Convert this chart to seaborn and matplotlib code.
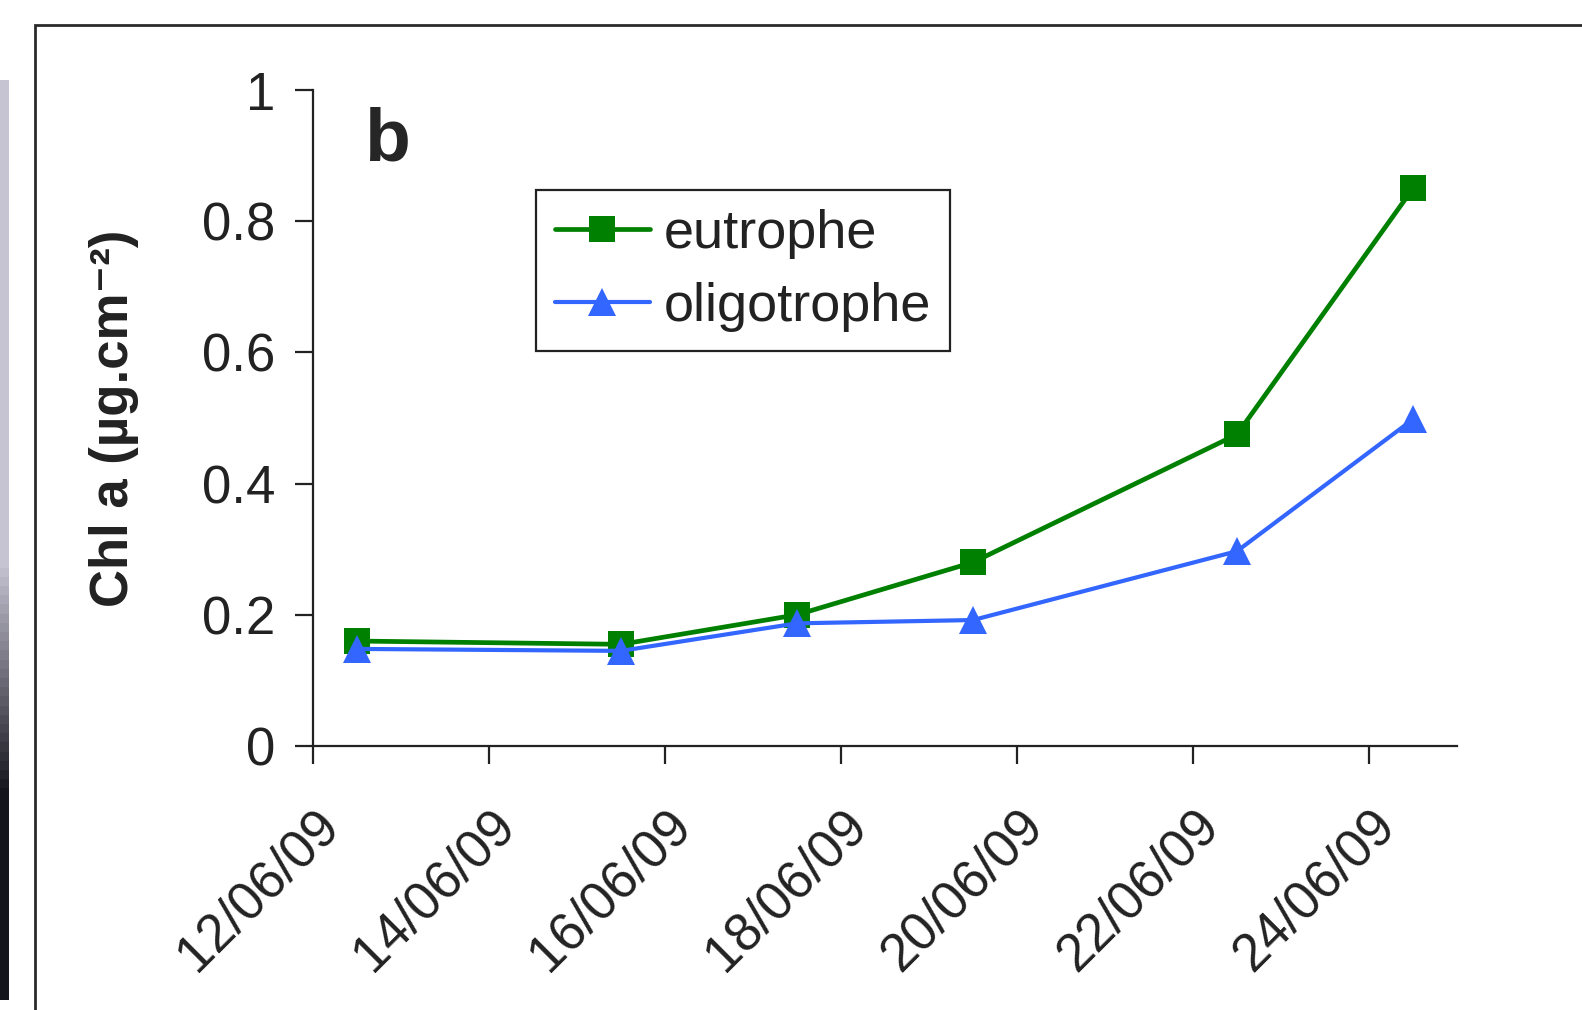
import numpy as np
import pandas as pd
import matplotlib
matplotlib.use("Agg")
import matplotlib.pyplot as plt
import matplotlib.dates as mdates
import matplotlib.ticker as ticker
from matplotlib.patches import Rectangle
import seaborn as sns

# Data
dates = ["2009-06-12 12:00", "2009-06-15 12:00", "2009-06-17 12:00",
         "2009-06-19 12:00", "2009-06-22 12:00", "2009-06-24 12:00"]
eutrophe = [0.16, 0.155, 0.20, 0.28, 0.475, 0.85]
oligotrophe = [0.148, 0.145, 0.187, 0.192, 0.297, 0.498]
tick_dates = ["2009-06-12", "2009-06-14", "2009-06-16", "2009-06-18",
              "2009-06-20", "2009-06-22", "2009-06-24"]
y_ticks = [0, 0.2, 0.4, 0.6, 0.8, 1]

df = pd.DataFrame({"date": pd.to_datetime(dates),
                   "eutrophe": eutrophe,
                   "oligotrophe": oligotrophe})

sns.set_style("ticks")
plt.rcParams["font.family"] = ["Liberation Sans", "DejaVu Sans"]
plt.rcParams["mathtext.default"] = "regular"

fig = plt.figure(figsize=(15.82, 10.1), dpi=100)
fig.patch.set_facecolor("white")

# outer frame of the panel
fig.patches.append(Rectangle((35 / 1582, -0.05), 1.2, 0.05 + 1 - 25 / 1010,
                             transform=fig.transFigure, fill=False,
                             edgecolor="#2a2a2a", linewidth=2.0))

# strip of the neighbouring photo at the left edge
strip = fig.add_axes([0, 1 - 1000 / 1010, 9 / 1582, 920 / 1010])
grad = np.ones((100, 1, 3))
top = np.array([0.78, 0.77, 0.83])
bot = np.array([0.08, 0.08, 0.11])
for i in range(100):
    t = 0 if i < 52 else min(1, (i - 52) / 25)
    grad[i, 0] = top * (1 - t) + bot * t
strip.imshow(grad, aspect="auto")
strip.axis("off")

ax = fig.add_axes([313 / 1582, 1 - 746 / 1010, 1144 / 1582, 656 / 1010])

sns.lineplot(data=df, x="date", y="eutrophe", ax=ax, color="#008000",
             marker="s", markersize=19, markeredgewidth=0, linewidth=3.4,
             label="eutrophe")
sns.lineplot(data=df, x="date", y="oligotrophe", ax=ax, color="#3366FF",
             marker="^", markersize=20, markeredgewidth=0, linewidth=3.0,
             label="oligotrophe")

ax.set_xlim(pd.Timestamp("2009-06-12"), pd.Timestamp("2009-06-25"))
ax.set_ylim(0, 1)
ax.set_xticks(pd.to_datetime(tick_dates))
ax.xaxis.set_major_formatter(mdates.DateFormatter("%d/%m/%y"))
ax.set_yticks(y_ticks)
ax.yaxis.set_major_formatter(ticker.FuncFormatter(lambda v, _: f"{v:g}"))

for s in ["top", "right"]:
    ax.spines[s].set_visible(False)
for s in ["left", "bottom"]:
    ax.spines[s].set_linewidth(1.6)
    ax.spines[s].set_color("#222222")

ax.tick_params(axis="both", direction="out", length=13, width=1.6,
               colors="#222222", labelsize=38)
ax.tick_params(axis="y", pad=14)
ax.tick_params(axis="x", pad=26)
for lbl in ax.get_xticklabels():
    lbl.set_rotation(45)
    lbl.set_ha("right")
    lbl.set_rotation_mode("anchor")

ax.set_xlabel("")
ax.set_ylabel("Chl a (µg.cm⁻²)", fontsize=38, fontweight="bold",
              color="#222222")
ax.yaxis.set_label_coords(-0.152, 0.5)

ax.text(0.045, 0.975, "b", transform=ax.transAxes, fontsize=54,
        fontweight="bold", va="top", ha="left")

leg = ax.legend(loc="upper left", bbox_to_anchor=(0.195, 0.847),
                fontsize=39, frameon=True, fancybox=False, framealpha=1,
                edgecolor="#222222", handlelength=1.75, handletextpad=0.25,
                labelspacing=0.42, borderpad=0.35, borderaxespad=0)
leg.get_frame().set_linewidth(1.6)
for t in leg.get_texts():
    t.set_color("#222222")

fig.savefig("out.png", dpi=100)
